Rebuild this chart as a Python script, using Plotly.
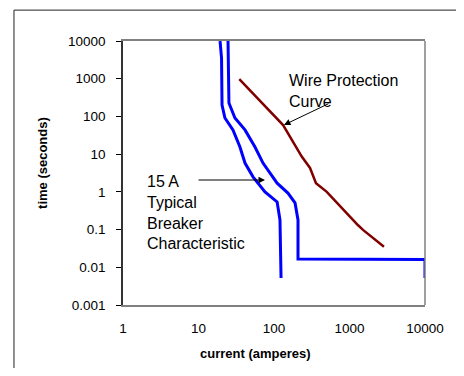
import plotly.graph_objects as go

# Breaker characteristic (inner / min trip curve)
breaker_min_current = [19.3, 20.2, 20.5, 22.4, 28.6, 35.4, 41.3, 52.7, 76, 110, 120, 124]
breaker_min_time = [10000, 3500, 200, 91, 44, 15.5, 5.8, 2.5, 1.0, 0.54, 0.18, 0.0052]

# Breaker characteristic (outer / max trip curve)
breaker_max_current = [24.6, 25.3, 30.4, 41.3, 56, 71.5, 110, 153, 190, 208, 208, 10000, 10000]
breaker_max_time = [10000, 227, 91, 44, 15.5, 5.8, 1.7, 0.93, 0.51, 0.18, 0.0166, 0.016, 0.0052]

# Wire protection curve
wire_current = [34.7, 132, 233, 300, 360, 500, 1300, 1510, 2860]
wire_time = [980, 59, 8.6, 4.3, 1.7, 1.0, 0.13, 0.098, 0.035]

x_tickvals = [1, 10, 100, 1000, 10000]
x_ticktext = ["1", "10", "100", "1000", "10000"]
y_tickvals = [0.001, 0.01, 0.1, 1, 10, 100, 1000, 10000]
y_ticktext = ["0.001", "0.01", "0.1", "1", "10", "100", "1000", "10000"]

FONT = "Arial, Liberation Sans, sans-serif"

fig = go.Figure()
fig.add_trace(go.Scatter(x=breaker_min_current, y=breaker_min_time, mode="lines",
                         line=dict(color="#0000FF", width=3), showlegend=False))
fig.add_trace(go.Scatter(x=breaker_max_current, y=breaker_max_time, mode="lines",
                         line=dict(color="#0000FF", width=3), showlegend=False))
fig.add_trace(go.Scatter(x=wire_current, y=wire_time, mode="lines",
                         line=dict(color="#800000", width=2.5), showlegend=False))

fig.update_layout(
    width=448, height=360,
    margin=dict(l=115, r=31, t=33, b=63),
    paper_bgcolor="white", plot_bgcolor="white",
    font=dict(family=FONT, color="black", size=13.5),
    xaxis=dict(type="log", range=[0, 4], tickvals=x_tickvals, ticktext=x_ticktext,
               showgrid=False, zeroline=False, showline=True, linecolor="#808080",
               linewidth=1.5, mirror=True, ticks="", ticklabelstandoff=10,
               tickfont=dict(size=13.5)),
    yaxis=dict(type="log", range=[-3, 4], tickvals=y_tickvals, ticktext=y_ticktext,
               showgrid=False, zeroline=False, showline=True, linecolor="#333333",
               linewidth=1.5, ticks="outside", ticklen=5, tickcolor="black",
               ticklabelstandoff=8, tickfont=dict(size=13.5)),
)

# right border of plot area in gray
fig.add_shape(type="line", xref="paper", yref="paper", x0=1, x1=1, y0=0, y1=1,
              line=dict(color="#808080", width=1.5))
# outer frame: left and top edges only (right/bottom lie outside the view)
fig.add_shape(type="line", xref="paper", yref="paper", x0=-0.361, x1=-0.361, y0=-0.45, y1=1.117,
              line=dict(color="#222222", width=1))
fig.add_shape(type="line", xref="paper", yref="paper", x0=-0.361, x1=1.2, y0=1.117, y1=1.117,
              line=dict(color="#222222", width=1))

# axis titles
fig.add_annotation(text="<b>time (seconds)</b>", xref="paper", yref="paper",
                   x=-0.265, y=0.538, textangle=-90, showarrow=False,
                   xanchor="center", yanchor="middle",
                   font=dict(size=13, family=FONT))
fig.add_annotation(text="<b>current (amperes)</b>", xref="paper", yref="paper",
                   x=0.44, y=-0.182, showarrow=False, xanchor="center", yanchor="middle",
                   font=dict(size=13, family=FONT))

# curve labels
fig.add_annotation(text="Wire Protection<br>Curve", xref="paper", yref="paper",
                   x=0.543, y=0.89, xanchor="left", yanchor="top", align="left",
                   showarrow=False, font=dict(size=16, family=FONT))
fig.add_annotation(text="15 A<br>Typical<br>Breaker<br>Characteristic", xref="paper", yref="paper",
                   x=0.073, y=0.508, xanchor="left", yanchor="top", align="left",
                   showarrow=False, font=dict(size=16, family=FONT))

# arrows
fig.add_annotation(x=2.132, y=1.773, xref="x", yref="y", text="", showarrow=True,
                   ax=46, ay=-22, arrowhead=2, arrowsize=1.3, arrowwidth=1, arrowcolor="black")
fig.add_annotation(x=1.881, y=0.314, xref="x", yref="y", text="", showarrow=True,
                   ax=-68, ay=0, arrowhead=2, arrowsize=1.3, arrowwidth=1, arrowcolor="black")

fig.write_html("out.html")
